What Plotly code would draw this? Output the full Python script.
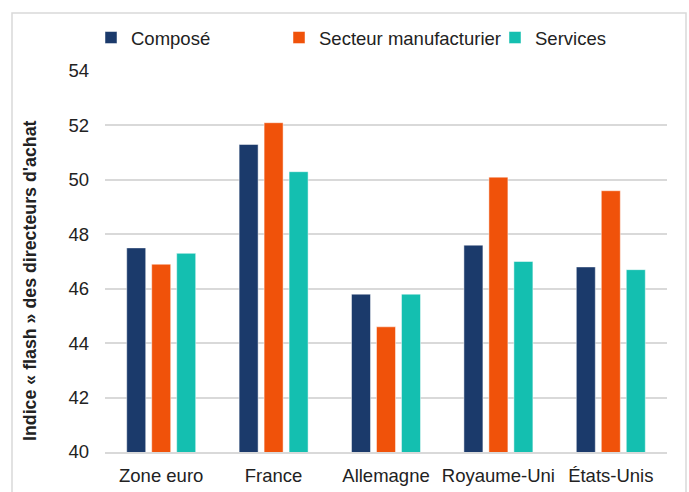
import plotly.graph_objects as go

categories = ["Zone euro", "France", "Allemagne", "Royaume-Uni", "États-Unis"]
composite = [47.5, 51.3, 45.8, 47.6, 46.8]
manufacturing = [46.9, 52.1, 44.6, 50.1, 49.6]
services = [47.3, 50.3, 45.8, 47.0, 46.7]
series_names = ["Composé", "Secteur manufacturier", "Services"]
colors = ["#1B3A6B", "#F0520A", "#14BFB0"]
legend_widths = [143, 171, 80]

W, H = 689, 492
L, R, T, B = 105, 22, 71, 40
pw = W - L - R
ph = H - T - B

fig = go.Figure()
for name, vals, col, lw in zip(series_names, [composite, manufacturing, services], colors, legend_widths):
    fig.add_trace(go.Bar(
        x=categories, y=vals, name=name,
        marker=dict(color=col, line=dict(color="rgba(255,255,255,0.6)", width=0.8)),
        legendwidth=lw,
    ))

font_family = "Liberation Sans, Arial, sans-serif"
FS = 18.5

fig.update_layout(
    width=W, height=H,
    margin=dict(l=L, r=R, t=T, b=B, autoexpand=False),
    paper_bgcolor="white", plot_bgcolor="white",
    barmode="group", bargap=0.333, bargroupgap=0.24,
    font=dict(family=font_family, size=FS, color="#222222"),
    showlegend=True,
    legend=dict(
        orientation="h", x=(91 - L) / pw, xanchor="left",
        y=(H - B - 38) / ph, yanchor="middle",
        font=dict(size=FS, color="#222222"),
        bgcolor="rgba(0,0,0,0)", itemclick=False,
        tracegroupgap=0,
    ),
    xaxis=dict(
        showgrid=False, showline=True, linecolor="#D9D9D9", linewidth=1.5,
        ticks="", tickfont=dict(size=FS, color="#222222"),
        ticklabelstandoff=6, automargin=False,
    ),
    yaxis=dict(
        range=[40, 54], dtick=2, tick0=40,
        showgrid=True, gridcolor="#D9D9D9", gridwidth=1.5,
        zeroline=False, showline=False, ticks="",
        ticklabelstandoff=15, automargin=False,
        tickfont=dict(size=FS, color="#222222"),
    ),
    shapes=[dict(
        type="rect", xref="paper", yref="paper",
        x0=(12 - L) / pw, x1=(686 - L) / pw,
        y0=(H - B - 500) / ph, y1=(H - B - 13) / ph,
        line=dict(color="#D9D9D9", width=1.5), fillcolor="rgba(0,0,0,0)",
        layer="below",
    )],
    annotations=[dict(
        text="<b>Indice « flash » des directeurs d'achat</b>",
        xref="paper", yref="paper",
        x=(30 - L) / pw, y=(H - B - 281) / ph,
        xanchor="center", yanchor="middle",
        textangle=-90, showarrow=False,
        font=dict(size=17.8, color="#222222"),
    )],
)

fig.write_html("out.html")
